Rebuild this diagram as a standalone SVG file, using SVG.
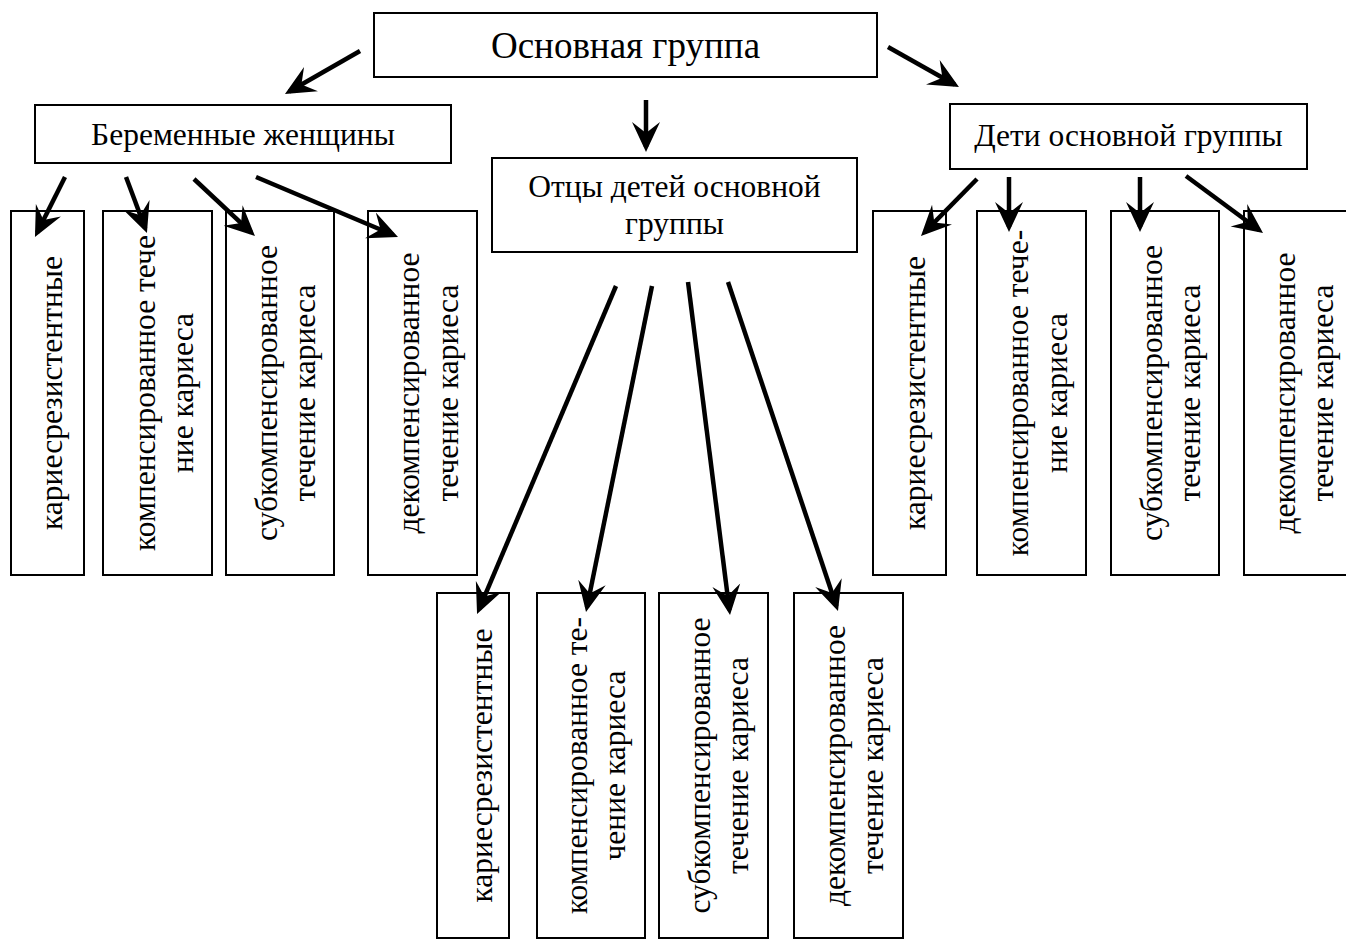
<svg xmlns="http://www.w3.org/2000/svg" width="1346" height="940" viewBox="0 0 1346 940">
<style>
.box{fill:#fff;stroke:#000;stroke-width:2}
.t{font-family:"Liberation Serif","Times New Roman",serif;font-size:31.5px;fill:#000;text-anchor:middle}
.title{font-size:37px}
.c{stroke:#000;stroke-width:4.5;fill:none;marker-end:url(#ah)}
</style>
<defs>
<marker id="ah" markerUnits="userSpaceOnUse" markerWidth="30" markerHeight="30" viewBox="0 0 30 30" refX="25" refY="15" orient="auto">
<path d="M30,15 L0,1 L11,15 L0,29 Z" fill="#000"/>
</marker>
</defs>
<rect width="1346" height="940" fill="#fff"/>
<g id="main"><rect class="box" x="374" y="13" width="503" height="64"/><text class="t title" x="625.5" y="58">Основная группа</text></g>
<g id="pregnant"><rect class="box" x="35" y="105" width="416" height="58"/><text class="t" x="243" y="145">Беременные женщины</text></g>
<g id="children"><rect class="box" x="950" y="104" width="357" height="65"/><text class="t" x="1128.5" y="146">Дети основной группы</text></g>
<g id="fathers"><rect class="box" x="492" y="158" width="365" height="94"/><text class="t" x="674.5" y="197">Отцы детей основной</text><text class="t" x="674.5" y="234">группы</text></g>

<g id="p1"><rect class="box" x="11" y="211" width="73" height="364"/><text class="t" transform="translate(0,393) rotate(-90)" x="0" y="62">кариесрезистентные</text></g>
<g id="p2"><rect class="box" x="103" y="211" width="109" height="364"/><text class="t" transform="translate(0,393) rotate(-90)" x="0" y="155">компенсированное тече</text><text class="t" transform="translate(0,393) rotate(-90)" x="0" y="193">ние кариеса</text></g>
<g id="p3"><rect class="box" x="226" y="211" width="108" height="364"/><text class="t" transform="translate(0,393) rotate(-90)" x="0" y="277">субкомпенсированное</text><text class="t" transform="translate(0,393) rotate(-90)" x="0" y="315">течение кариеса</text></g>
<g id="p4"><rect class="box" x="368" y="211" width="109" height="364"/><text class="t" transform="translate(0,393) rotate(-90)" x="0" y="419">декомпенсированное</text><text class="t" transform="translate(0,393) rotate(-90)" x="0" y="458">течение кариеса</text></g>

<g id="c1"><rect class="box" x="873" y="211" width="73" height="364"/><text class="t" transform="translate(0,393) rotate(-90)" x="0" y="925">кариесрезистентные</text></g>
<g id="c2"><rect class="box" x="977" y="211" width="109" height="364"/><text class="t" transform="translate(0,393) rotate(-90)" x="0" y="1028">компенсированное тече-</text><text class="t" transform="translate(0,393) rotate(-90)" x="0" y="1067">ние кариеса</text></g>
<g id="c3"><rect class="box" x="1111" y="211" width="108" height="364"/><text class="t" transform="translate(0,393) rotate(-90)" x="0" y="1162">субкомпенсированное</text><text class="t" transform="translate(0,393) rotate(-90)" x="0" y="1200">течение кариеса</text></g>
<g id="c4"><rect class="box" x="1244" y="211" width="120" height="364"/><text class="t" transform="translate(0,393) rotate(-90)" x="0" y="1295">декомпенсированное</text><text class="t" transform="translate(0,393) rotate(-90)" x="0" y="1333">течение кариеса</text></g>

<g id="f1"><rect class="box" x="437" y="593" width="72" height="345"/><text class="t" transform="translate(0,765.5) rotate(-90)" x="0" y="492">кариесрезистентные</text></g>
<g id="f2"><rect class="box" x="537" y="593" width="108" height="345"/><text class="t" transform="translate(0,765.5) rotate(-90)" x="0" y="587">компенсированное те-</text><text class="t" transform="translate(0,765.5) rotate(-90)" x="0" y="625">чение кариеса</text></g>
<g id="f3"><rect class="box" x="659" y="593" width="109" height="345"/><text class="t" transform="translate(0,765.5) rotate(-90)" x="0" y="710">субкомпенсированное</text><text class="t" transform="translate(0,765.5) rotate(-90)" x="0" y="748">течение кариеса</text></g>
<g id="f4"><rect class="box" x="794" y="593" width="109" height="345"/><text class="t" transform="translate(0,765.5) rotate(-90)" x="0" y="845">декомпенсированное</text><text class="t" transform="translate(0,765.5) rotate(-90)" x="0" y="883">течение кариеса</text></g>

<g id="connectors">
<line class="c" x1="360" y1="51" x2="289.3" y2="91.5"/>
<line class="c" x1="646" y1="100" x2="646" y2="147"/>
<line class="c" x1="888" y1="47" x2="954.6" y2="84.5"/>
<line class="c" x1="65" y1="177" x2="37.2" y2="232.5"/>
<line class="c" x1="126" y1="177" x2="145.2" y2="228.3"/>
<line class="c" x1="194" y1="179" x2="251.3" y2="232.6"/>
<line class="c" x1="256" y1="177" x2="393.4" y2="235"/>
<line class="c" x1="977" y1="179" x2="924.5" y2="232.4"/>
<line class="c" x1="1009" y1="177" x2="1009" y2="227"/>
<line class="c" x1="1140" y1="177" x2="1140" y2="227"/>
<line class="c" x1="1186" y1="176" x2="1259" y2="230"/>
<line class="c" x1="616" y1="286" x2="479" y2="609.4"/>
<line class="c" x1="652" y1="286" x2="587" y2="607.1"/>
<line class="c" x1="688" y1="282" x2="729.4" y2="610"/>
<line class="c" x1="728" y1="282" x2="836.4" y2="606.3"/>
</g>
</svg>
